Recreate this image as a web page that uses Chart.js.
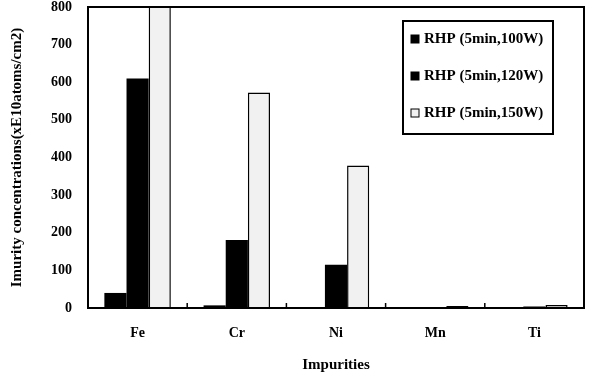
<!DOCTYPE html>
<html>
<head>
<meta charset="utf-8">
<script src="https://cdn.jsdelivr.net/npm/chart.js@4/dist/chart.umd.min.js"></script>
<style>
  html, body { margin: 0; padding: 0; background: #fff; }
  #wrap { width: 604px; height: 376px; }
</style>
</head>
<body>
<div id="wrap"><canvas id="chart"></canvas></div>
<script>
var impurities = ['Fe', 'Cr', 'Ni', 'Mn', 'Ti'];
var rhp100 = [40, 7, 2, 0, 0];
var rhp120 = [610, 181, 115, 1, 4];
var rhp150 = [850, 573, 379, 5, 8];
var seriesLabels = ['RHP (5min,100W)', 'RHP (5min,120W)', 'RHP (5min,150W)'];
var yTicks = [0, 100, 200, 300, 400, 500, 600, 700, 800];

var serif = '"Liberation Serif", "DejaVu Serif", serif';

// frame round the plot area
var frame = {
  id: 'frame',
  afterDatasetsDraw: function(chart) {
    var a = chart.chartArea, ctx = chart.ctx;
    ctx.save();
    ctx.strokeStyle = '#000';
    ctx.lineWidth = 2;
    ctx.strokeRect(a.left, a.top, a.right - a.left, a.bottom - a.top);
    // small ticks between categories, pointing up
    var x = chart.scales.x;
    ctx.lineWidth = 1.5;
    for (var i = 1; i < impurities.length; i++) {
      var px = (x.getPixelForTick(i - 1) + x.getPixelForTick(i)) / 2;
      ctx.beginPath();
      ctx.moveTo(px, a.bottom);
      ctx.lineTo(px, a.bottom - 5);
      ctx.stroke();
    }
    ctx.restore();
  }
};

// legend box inside the plot
var boxLegend = {
  id: 'boxLegend',
  afterDraw: function(chart) {
    var ctx = chart.ctx;
    var bx = 403, by = 21, bw = 150, bh = 113;
    ctx.save();
    ctx.fillStyle = '#fff';
    ctx.fillRect(bx, by, bw, bh);
    ctx.strokeStyle = '#000';
    ctx.lineWidth = 2;
    ctx.strokeRect(bx, by, bw, bh);
    ctx.font = 'bold 15px ' + serif;
    ctx.textBaseline = 'middle';
    chart.data.datasets.forEach(function(ds, i) {
      var cy = by + 18 + i * 37;
      ctx.fillStyle = ds.backgroundColor;
      ctx.fillRect(bx + 8, cy - 4, 8, 8);
      ctx.strokeStyle = '#000';
      ctx.lineWidth = 1;
      ctx.strokeRect(bx + 8, cy - 4, 8, 8);
      ctx.fillStyle = '#000';
      ctx.fillText(ds.label, bx + 21, cy);
    });
    ctx.restore();
  }
};

new Chart(document.getElementById('chart'), {
  type: 'bar',
  data: {
    labels: impurities,
    datasets: [
      { label: seriesLabels[0], data: rhp100, backgroundColor: '#000', borderColor: '#000', borderWidth: 0 },
      { label: seriesLabels[1], data: rhp120, backgroundColor: '#000', borderColor: '#000', borderWidth: 0 },
      { label: seriesLabels[2], data: rhp150, backgroundColor: '#f1f1f1', borderColor: '#000', borderWidth: 1.5 }
    ]
  },
  options: {
    responsive: true,
    maintainAspectRatio: false,
    animation: false,
    layout: { padding: { top: 7, right: 20, left: 0, bottom: 0 } },
    datasets: { bar: { barPercentage: 1.0, categoryPercentage: 0.67 } },
    plugins: {
      legend: { display: false },
      tooltip: { enabled: false }
    },
    scales: {
      x: {
        grid: { display: false, drawTicks: false },
        border: { display: false },
        ticks: { color: '#000', padding: 17, font: { family: serif, size: 14, weight: 'bold' } },
        title: { display: true, text: 'Impurities', color: '#000', padding: { top: 12, bottom: 2 },
                 font: { family: serif, size: 15, weight: 'bold' } },
        afterFit: function(s) { s.height = 68; s.paddingLeft = 0; s.paddingRight = 0; }
      },
      y: {
        min: 0,
        max: 800,
        grid: { display: false, drawTicks: false },
        border: { display: false },
        afterBuildTicks: function(s) { s.ticks = yTicks.map(function(v) { return { value: v }; }); },
        ticks: { color: '#000', padding: 16, font: { family: serif, size: 14, weight: 'bold' } },
        title: { display: true, text: 'Imurity concentrations(xE10atoms/cm2)', color: '#000',
                 padding: { top: 8, bottom: 4 }, font: { family: serif, size: 15, weight: 'bold' } },
        afterFit: function(s) { s.width = 88; s.paddingTop = 0; s.paddingBottom = 0; }
      }
    }
  },
  plugins: [frame, boxLegend]
});
</script>
</body>
</html>
